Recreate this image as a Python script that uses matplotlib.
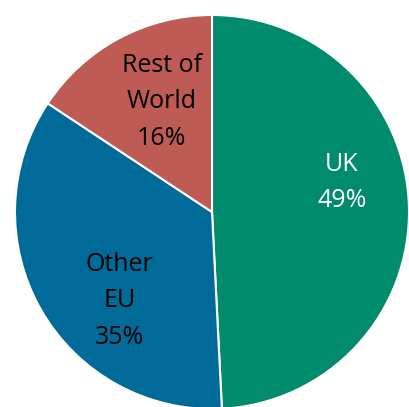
import matplotlib
matplotlib.use("Agg")
import matplotlib.pyplot as plt

categories = ["UK", "Other\nEU", "Rest of\nWorld"]
values = [49.2, 35.1, 15.7]
colors = ["#008c6c", "#006b98", "#be5b55"]
text_colors = ["white", "black", "black"]
# label offsets (fraction of radius) as (x, y) relative to centre
label_pos = [(0.66, 0.15), (-0.47, -0.45), (-0.255, 0.56)]

W, H = 409, 407
fig = plt.figure(figsize=(W / 100, H / 100), dpi=100)
ax = fig.add_axes([0, 0, 1, 1])

cx, cy, r = 212, 195, 197
wedges, _ = ax.pie(values, colors=colors, startangle=90, counterclock=False,
                   center=(cx, cy), radius=r, frame=True,
                   wedgeprops=dict(edgecolor="white", linewidth=1.5))
ax.set_xlim(0, W)
ax.set_ylim(0, H)
ax.set_aspect("equal")
ax.axis("off")

for cat, v, (px, py), tc in zip(categories, values, label_pos, text_colors):
    ax.text(cx + px * r, cy + py * r, f"{cat}\n{round(v)}%", ha="center", va="center",
            color=tc, fontsize=18, family="Open Sans", linespacing=1.6)

fig.savefig("out.png", dpi=100)
